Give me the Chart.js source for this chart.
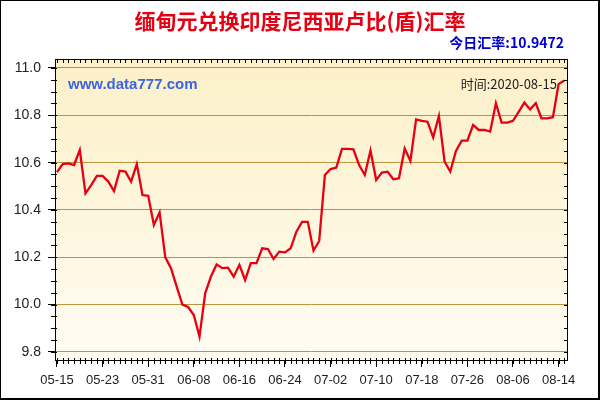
<!DOCTYPE html>
<html>
<head>
<meta charset="utf-8">
<script src="https://cdn.jsdelivr.net/npm/chart.js@4/dist/chart.umd.min.js"></script>
<style>
  html, body { margin: 0; padding: 0; background: #fff; }
  #wrap { width: 600px; height: 400px; }
</style>
</head>
<body>
<div id="wrap"><canvas id="rateChart" width="600" height="400"></canvas></div>
<script>
// data (one point per trading day)
const rates = [
  10.560, 10.594, 10.597, 10.590, 10.654, 10.470, 10.505, 10.544, 10.544, 10.520,
  10.480, 10.566, 10.562, 10.520, 10.594, 10.463, 10.460, 10.337, 10.390, 10.200,
  10.154, 10.076, 10.000, 9.990, 9.956, 9.865, 10.048, 10.118, 10.170, 10.154,
  10.156, 10.118, 10.168, 10.104, 10.175, 10.175, 10.238, 10.235, 10.193, 10.224,
  10.221, 10.238, 10.308, 10.350, 10.350, 10.228, 10.269, 10.548, 10.573, 10.579,
  10.658, 10.658, 10.656, 10.590, 10.548, 10.651, 10.527, 10.558, 10.562, 10.530,
  10.534, 10.660, 10.607, 10.783, 10.777, 10.773, 10.707, 10.797, 10.604, 10.562,
  10.650, 10.693, 10.693, 10.759, 10.738, 10.738, 10.731, 10.851, 10.769, 10.769,
  10.777, 10.815, 10.854, 10.825, 10.851, 10.787, 10.787, 10.792, 10.932, 10.9472
];
const xTickLabels = ['05-15','05-23','05-31','06-08','06-16','06-24','07-02','07-10','07-18','07-26','08-06','08-14'];
const xTickIndex  = [0, 8, 16, 24, 32, 40, 48, 56, 64, 72, 80, 88];
const yTicks = [9.8, 10.0, 10.2, 10.4, 10.6, 10.8, 11.0];

const TITLE = '缅甸元兑换印度尼西亚卢比(盾)汇率';
const TODAY = '今日汇率:10.9472';
const SITE = 'www.data777.com';
const DATE_NOTE = '时间:2020-08-15';

const CJK = '"Noto Sans CJK SC", sans-serif';
const LAT = '"Liberation Sans", Arial, sans-serif';

// ── frame, plot background, texts, minor ticks ──────────────────────────────
const decor = {
  id: 'decor',
  beforeDraw(chart) {
    const { ctx, chartArea: a } = chart;
    ctx.save();
    ctx.fillStyle = '#000';
    ctx.fillRect(0, 0, 600, 400);
    ctx.fillStyle = '#fff';
    ctx.fillRect(1, 1, 597, 397);
    const g = ctx.createLinearGradient(0, a.top, 0, a.bottom);
    g.addColorStop(0, '#fcf0c8');
    g.addColorStop(1, '#fffcf2');
    ctx.fillStyle = g;
    ctx.fillRect(a.left, a.top, a.right - a.left, a.bottom - a.top);
    ctx.restore();
  },
  afterDraw(chart) {
    const { ctx, chartArea: a, scales } = chart;
    const x = scales.x, y = scales.y;
    ctx.save();
    ctx.strokeStyle = '#000';
    ctx.lineWidth = 1;
    ctx.strokeRect(a.left + 0.5, a.top + 0.5, a.right - a.left - 1, a.bottom - a.top);
    ctx.beginPath();
    for (let v = 9.8; v <= 11.0001; v += 0.05) {
      const py = Math.round(y.getPixelForValue(v)) + 0.5;
      ctx.moveTo(a.left - 4, py); ctx.lineTo(a.left + 2, py);
      ctx.moveTo(a.right - 4, py); ctx.lineTo(a.right, py);
    }
    for (let i = 0; i < rates.length; i++) {
      const px = Math.round(x.getPixelForValue(i)) + 0.5;
      ctx.moveTo(px, a.bottom - 2); ctx.lineTo(px, a.bottom + 4);
      ctx.moveTo(px, a.top); ctx.lineTo(px, a.top + 4);
    }
    ctx.stroke();

    ctx.textBaseline = 'middle';
    ctx.textAlign = 'center';
    ctx.fillStyle = '#e60012';
    ctx.font = 'bold 21px ' + CJK;
    ctx.fillText(TITLE, 300, 21);

    ctx.textAlign = 'right';
    ctx.fillStyle = '#0000cc';
    ctx.font = 'bold 14px ' + CJK;
    ctx.fillText(TODAY, 564, 43);

    ctx.fillStyle = '#222';
    ctx.font = '13px ' + CJK;
    ctx.fillText(DATE_NOTE, 557, 84);

    ctx.textAlign = 'left';
    ctx.fillStyle = '#3a66e0';
    ctx.font = 'bold 15px ' + LAT;
    ctx.fillText(SITE, 68, 85);
    ctx.restore();
  }
};

new Chart(document.getElementById('rateChart'), {
  type: 'line',
  data: {
    datasets: [{
      data: rates.map((v, i) => ({ x: i, y: v })),
      borderColor: '#e60012',
      borderWidth: 2.3,
      pointRadius: 0,
      tension: 0,
      fill: false
    }]
  },
  options: {
    responsive: false,
    animation: false,
    events: [],
    layout: { padding: { left: 0, right: 32, top: 59, bottom: 0 } },
    plugins: { legend: { display: false }, tooltip: { enabled: false } },
    scales: {
      x: {
        type: 'linear',
        min: -0.35,
        max: 89.65,
        afterFit: s => { s.height = 40; },
        afterBuildTicks: s => { s.ticks = xTickIndex.map(v => ({ value: v })); },
        border: { display: false },
        grid: { drawOnChartArea: false, color: '#000', tickColor: '#000', tickLength: 7 },
        ticks: {
          autoSkip: false, maxRotation: 0, padding: 6, color: '#222',
          font: { family: LAT, size: 13 },
          callback: v => xTickLabels[xTickIndex.indexOf(v)]
        }
      },
      y: {
        min: 9.766,
        max: 11.038,
        afterFit: s => { s.width = 55; },
        afterBuildTicks: s => { s.ticks = yTicks.map(v => ({ value: v })); },
        border: { display: false },
        grid: { color: '#b8963c', tickColor: '#000', tickLength: 7, lineWidth: 1 },
        ticks: {
          padding: 7, color: '#222',
          font: { family: LAT, size: 14 },
          callback: v => v.toFixed(1)
        }
      }
    }
  },
  plugins: [decor]
});
</script>
</body>
</html>
